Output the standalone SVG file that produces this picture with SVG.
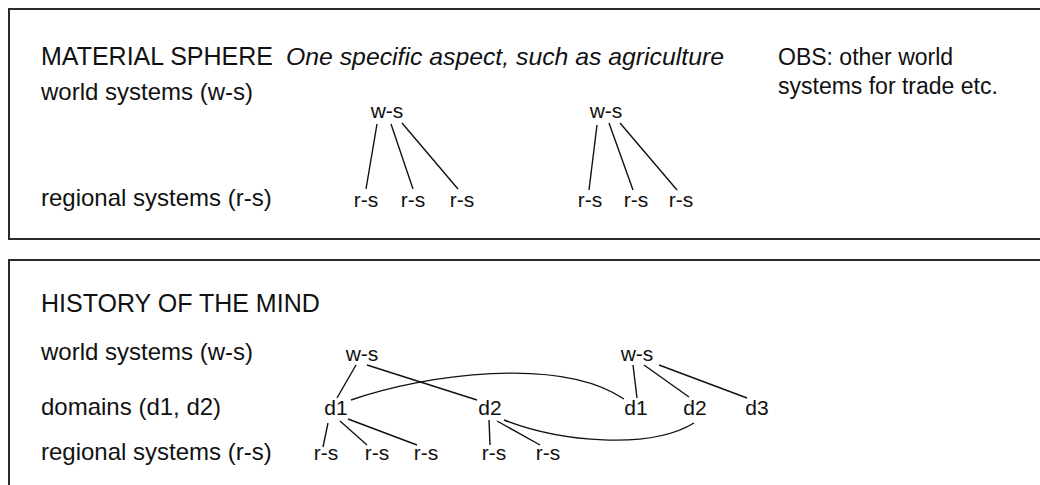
<svg xmlns="http://www.w3.org/2000/svg" width="1040" height="485" viewBox="0 0 1040 485">
<style>
text{font-family:"Liberation Sans",Arial,sans-serif;font-size:24px;fill:#111}
.h{font-size:25px}
.c{text-anchor:middle;font-size:21px}
.it{font-style:italic;font-size:24px}
.obs{font-size:23px}
.frame{fill:none;stroke:#2a2a2a;stroke-width:2}
.ln{fill:none;stroke:#111;stroke-width:1.4}
</style>
<rect width="1040" height="485" fill="#fff"/>
<rect class="frame" x="9" y="9" width="1040" height="230"/>
<rect class="frame" x="9" y="260" width="1040" height="240"/>
<g id="labels">
<text class="h" x="41" y="65">MATERIAL SPHERE</text>
<text class="it" x="286" y="65" textLength="438" lengthAdjust="spacingAndGlyphs">One specific aspect, such as agriculture</text>
<text class="obs" x="778" y="65">OBS: other world</text>
<text class="obs" x="778" y="94">systems for trade etc.</text>
<text x="41" y="100">world systems (w-s)</text>
<text x="41" y="206">regional systems (r-s)</text>
<text class="h" x="41" y="312">HISTORY OF THE MIND</text>
<text x="41" y="360">world systems (w-s)</text>
<text x="41" y="415">domains (d1, d2)</text>
<text x="41" y="460">regional systems (r-s)</text>
</g>
<g id="n-ws1"><text class="c" x="387" y="118">w-s</text></g>
<g id="n-rs1a"><text class="c" x="366" y="207">r-s</text></g>
<g id="n-rs1b"><text class="c" x="413" y="207">r-s</text></g>
<g id="n-rs1c"><text class="c" x="462" y="207">r-s</text></g>
<g id="n-ws2"><text class="c" x="606" y="118">w-s</text></g>
<g id="n-rs2a"><text class="c" x="590" y="207">r-s</text></g>
<g id="n-rs2b"><text class="c" x="636" y="207">r-s</text></g>
<g id="n-rs2c"><text class="c" x="681" y="207">r-s</text></g>
<g id="n-ws3"><text class="c" x="362" y="361">w-s</text></g>
<g id="n-d1a"><text class="c" x="336" y="415">d1</text></g>
<g id="n-d2a"><text class="c" x="490" y="415">d2</text></g>
<g id="n-rs3a"><text class="c" x="326" y="460">r-s</text></g>
<g id="n-rs3b"><text class="c" x="377" y="460">r-s</text></g>
<g id="n-rs3c"><text class="c" x="426" y="460">r-s</text></g>
<g id="n-rs3d"><text class="c" x="494" y="460">r-s</text></g>
<g id="n-rs3e"><text class="c" x="548" y="460">r-s</text></g>
<g id="n-ws4"><text class="c" x="637" y="361">w-s</text></g>
<g id="n-d1b"><text class="c" x="636" y="415">d1</text></g>
<g id="n-d2b"><text class="c" x="695" y="415">d2</text></g>
<g id="n-d3b"><text class="c" x="757" y="415">d3</text></g>
<g id="connectors">
<line class="ln" x1="377" y1="124" x2="366" y2="189"/>
<line class="ln" x1="391" y1="124" x2="413" y2="189"/>
<line class="ln" x1="402" y1="123" x2="458" y2="189"/>
<line class="ln" x1="597" y1="125" x2="589" y2="190"/>
<line class="ln" x1="609" y1="123" x2="633" y2="190"/>
<line class="ln" x1="620" y1="123" x2="677" y2="190"/>
<line class="ln" x1="356" y1="365" x2="337" y2="398"/>
<line class="ln" x1="367" y1="365" x2="477" y2="400"/>
<path class="ln" d="M351 400 C 425 374 560 356 624 399"/>
<line class="ln" x1="633" y1="365" x2="637" y2="398"/>
<line class="ln" x1="644" y1="365" x2="689" y2="397"/>
<line class="ln" x1="659" y1="365" x2="747" y2="398"/>
<line class="ln" x1="328" y1="423" x2="323" y2="447"/>
<line class="ln" x1="340" y1="421" x2="367" y2="445"/>
<line class="ln" x1="348" y1="419" x2="417" y2="445"/>
<line class="ln" x1="489" y1="420" x2="490" y2="445"/>
<line class="ln" x1="497" y1="421" x2="540" y2="445"/>
<path class="ln" d="M504 420 C 560 442 650 450 694 423"/>
</g>
</svg>
